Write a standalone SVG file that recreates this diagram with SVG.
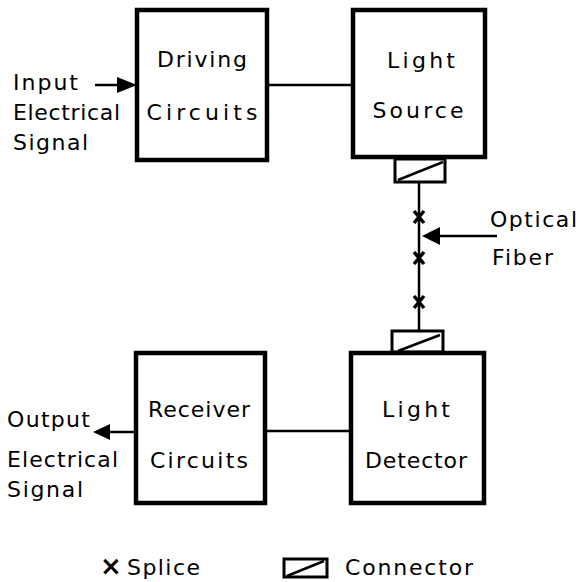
<svg xmlns="http://www.w3.org/2000/svg" width="581" height="582" viewBox="0 0 581 582">
<style>
.box{fill:#fff;stroke:#000;stroke-width:4.5}
.ln{fill:none;stroke:#000;stroke-width:2.5}
.con{fill:#fff;stroke:#000;stroke-width:3}
.sp{fill:none;stroke:#000;stroke-width:3.5}
text{font-family:"DejaVu Sans","Liberation Sans",sans-serif;font-size:22px;fill:#000}
</style>
<rect width="581" height="582" fill="#fff"/>
<g id="connectors">
<line class="ln" x1="267" y1="85" x2="353" y2="85"/>
<line class="ln" x1="265" y1="431" x2="351" y2="431"/>
<line class="ln" x1="95" y1="85" x2="122" y2="85"/>
<polygon points="137,85 117,77 117,93" fill="#000"/>
<line class="ln" x1="136" y1="432" x2="108" y2="432"/>
<polygon points="93,432 110,424 110,440" fill="#000"/>
<line class="ln" x1="419" y1="183" x2="419" y2="330"/>
<line class="ln" x1="436" y1="236" x2="497" y2="236"/>
<polygon points="422,236 440,227 440,245" fill="#000"/>
<path class="sp" d="M414,211 L424,223 M424,211 L414,223"/>
<path class="sp" d="M414,252 L424,264 M424,252 L414,264"/>
<path class="sp" d="M414,296 L424,308 M424,296 L414,308"/>
</g>
<g id="connector-top">
<rect class="con" x="395" y="159" width="50" height="23"/>
<line class="ln" x1="398" y1="180" x2="443" y2="162"/>
</g>
<g id="connector-bottom">
<rect class="con" x="392" y="331" width="51" height="21"/>
<line class="ln" x1="398" y1="351" x2="440" y2="335"/>
</g>
<g id="driving">
<rect class="box" x="137" y="10" width="130" height="150"/>
<text x="202" y="67" text-anchor="middle" textLength="90" lengthAdjust="spacing">Driving</text>
<text x="202" y="120" text-anchor="middle" textLength="111" lengthAdjust="spacing">Circuits</text>
</g>
<g id="source">
<rect class="box" x="353" y="10" width="132" height="147"/>
<text x="421" y="68" text-anchor="middle" textLength="68" lengthAdjust="spacing">Light</text>
<text x="418" y="118" text-anchor="middle" textLength="91" lengthAdjust="spacing">Source</text>
</g>
<g id="receiver">
<rect class="box" x="136" y="353" width="129" height="150"/>
<text x="199" y="417" text-anchor="middle" textLength="102" lengthAdjust="spacing">Receiver</text>
<text x="199" y="468" text-anchor="middle" textLength="98" lengthAdjust="spacing">Circuits</text>
</g>
<g id="detector">
<rect class="box" x="351" y="353" width="133" height="150"/>
<text x="416" y="417" text-anchor="middle" textLength="68" lengthAdjust="spacing">Light</text>
<text x="416" y="468" text-anchor="middle" textLength="102" lengthAdjust="spacing">Detector</text>
</g>
<g id="input-label">
<text x="13" y="90" textLength="65" lengthAdjust="spacing">Input</text>
<text x="13" y="120" textLength="107" lengthAdjust="spacing">Electrical</text>
<text x="13" y="150" textLength="75" lengthAdjust="spacing">Signal</text>
</g>
<g id="output-label">
<text x="7" y="427" textLength="83" lengthAdjust="spacing">Output</text>
<text x="7" y="467" textLength="111" lengthAdjust="spacing">Electrical</text>
<text x="7" y="497" textLength="76" lengthAdjust="spacing">Signal</text>
</g>
<g id="fiber-label">
<text x="490" y="227" textLength="87" lengthAdjust="spacing">Optical</text>
<text x="492" y="265" textLength="61" lengthAdjust="spacing">Fiber</text>
</g>
<g id="legend">
<text x="100" y="575" style="font-weight:bold;font-size:26px">×</text>
<text x="127" y="575" textLength="73" lengthAdjust="spacing">Splice</text>
<rect class="con" x="284" y="559" width="43" height="18"/>
<line class="ln" x1="287" y1="576" x2="324" y2="561"/>
<text x="345" y="575" textLength="128" lengthAdjust="spacing">Connector</text>
</g>
</svg>
